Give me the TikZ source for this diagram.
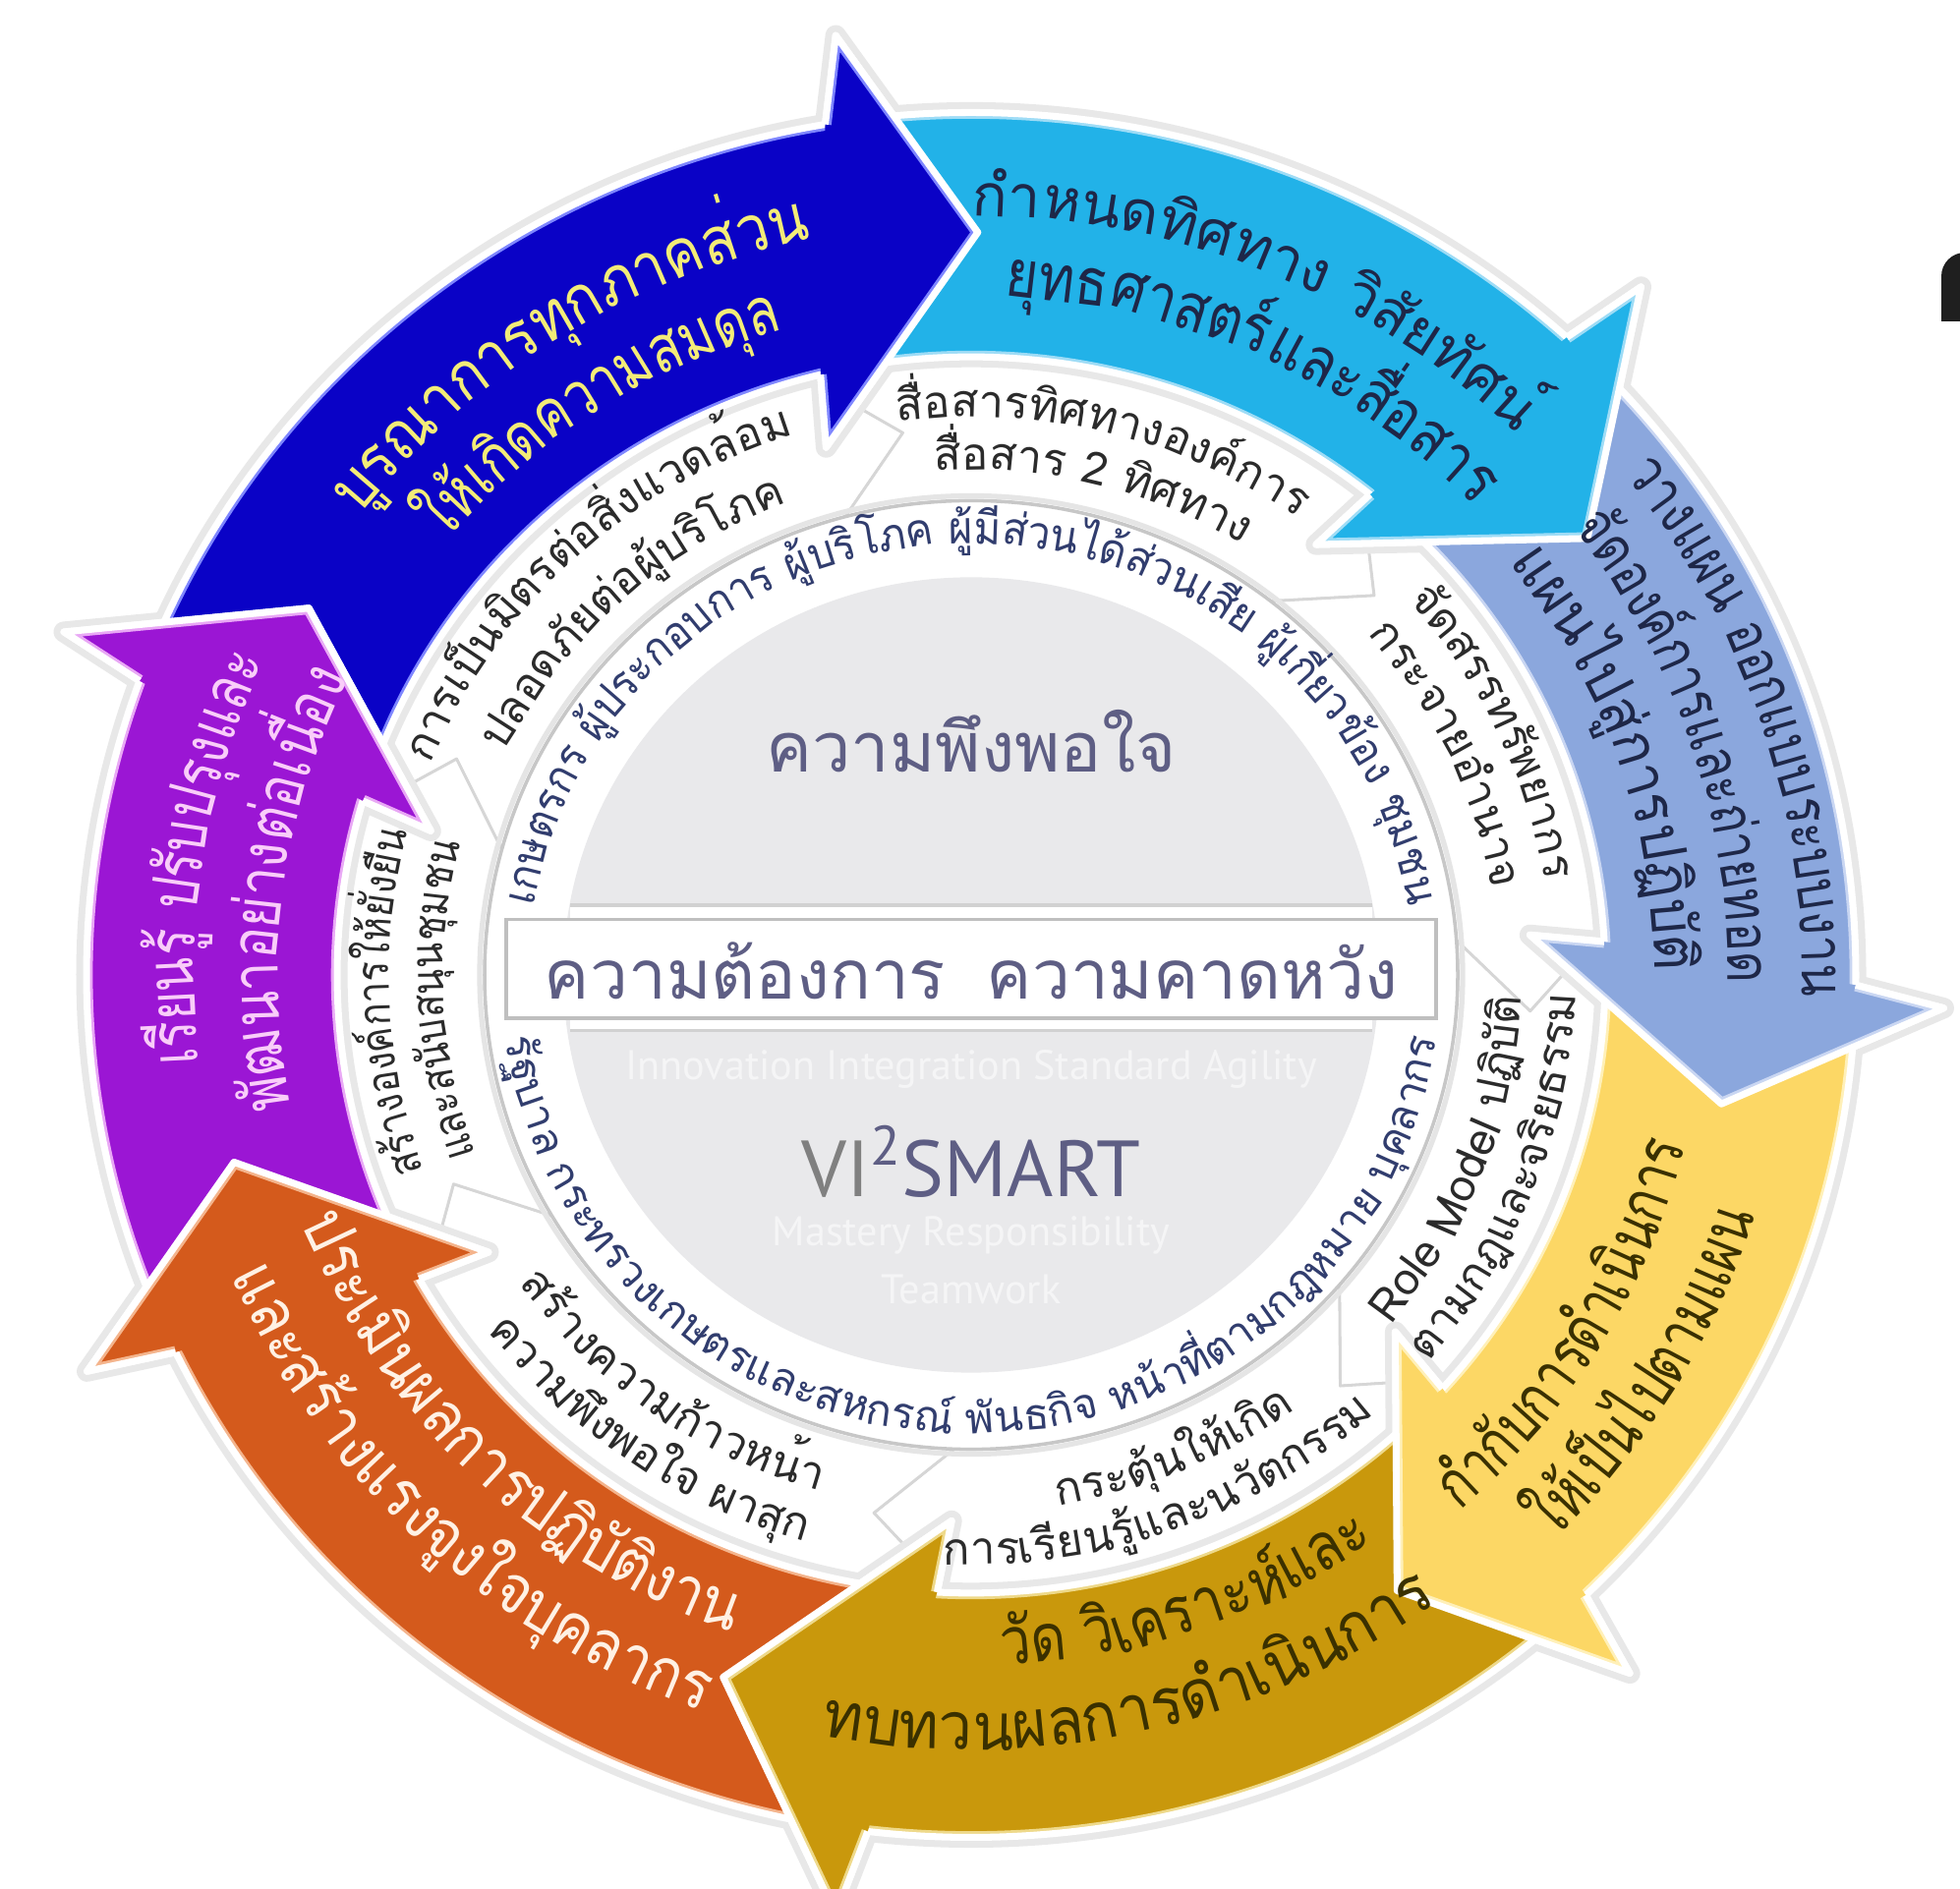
\documentclass[tikz,border=0pt]{standalone}
\usepackage{fontspec}
\newfontfamily\thai[Script=Thai]{Loma}
\newfontfamily\tA[Script=Thai,FakeStretch=0.76]{Loma}
\newfontfamily\tB[Script=Thai,FakeStretch=0.80]{Loma}
\newfontfamily\tC[Script=Thai,FakeStretch=0.84]{Loma}
\newfontfamily\tD[Script=Thai,FakeStretch=0.88]{Loma}
\newfontfamily\tE[Script=Thai,FakeStretch=0.92]{Loma}
\newfontfamily\ptsans{PT Sans}
\usetikzlibrary{decorations.text}
\definecolor{cDB}{HTML}{0A02C6}
\definecolor{cCY}{HTML}{22B2E8}
\definecolor{cBG}{HTML}{8BA7DD}
\definecolor{cYE}{HTML}{FCD765}
\definecolor{cGO}{HTML}{C9980C}
\definecolor{cOR}{HTML}{D45A1C}
\definecolor{cPU}{HTML}{9B16D4}
\definecolor{lDB}{HTML}{7E86FF}
\definecolor{lCY}{HTML}{9EDCF6}
\definecolor{lBG}{HTML}{C9D6F2}
\definecolor{lYE}{HTML}{FFF0B8}
\definecolor{lGO}{HTML}{EED98A}
\definecolor{lOR}{HTML}{F4B48C}
\definecolor{lPU}{HTML}{E9A8F5}
\definecolor{tDB}{HTML}{F3EC78}
\definecolor{tNavy}{HTML}{1E2748}
\definecolor{tOl}{HTML}{3A3000}
\definecolor{tOR}{HTML}{FFF1E4}
\definecolor{tPU}{HTML}{F9CDF9}
\definecolor{tRing}{HTML}{313D6E}
\definecolor{tLab}{HTML}{2B2B2B}
\definecolor{cDisc}{HTML}{E9E9EB}
\definecolor{tCen}{HTML}{5E5E84}
\definecolor{tFaint}{HTML}{F5F5F6}

% text on an arc round the origin: #1 format, #2 baseline radius, #3 centre angle,
% #4 half span (+ = clockwise, letters outward; - = counter-clockwise, letters inward), #5 text
\newcommand\arcline[5]{%
  \pgfmathsetmacro\aS{#3+(#4)}\pgfmathsetmacro\aE{#3-(#4)}%
  \path[decorate, decoration={text along path, text align=center, text={|#1|#5}}]
    (\aS:#2) arc[start angle=\aS, end angle=\aE, radius=#2];}
% coloured arrow: [style] tail-outer, tail-inner, outer barb, inner barb, tip
\newcommand\carrow[6][]{%
  \pgfmathsetmacro\abo{#4+0.214*(#5-#4)}%
  \pgfmathsetmacro\abi{#4+0.821*(#5-#4)}%
  \path[#1] (#2:900) arc[start angle=#2, end angle=\abo, radius=900]
    -- (#4:990) -- (#6:775) -- (#5:570)
    -- (\abi:645) arc[start angle=\abi, end angle=#3, radius=645] -- cycle;}
% head redrawn on top: colour, tint, outer barb, inner barb, tip
\newcommand\chead[5]{%
  \pgfmathsetmacro\abo{#3+0.214*(#4-#3)}%
  \pgfmathsetmacro\abi{#3+0.821*(#4-#3)}%
  \fill[#1] (\abo:900) -- (#3:990) -- (#5:775) -- (#4:570) -- (\abi:645) -- cycle;
  \begin{scope}
    \clip (\abo:900) -- (#3:990) -- (#5:775) -- (#4:570) -- (\abi:645) -- cycle;
    \draw[#2, line width=3.6pt, line join=round] (\abo:900) -- (#3:990) -- (#5:775) -- (#4:570) -- (\abi:645);
  \end{scope}
  \draw[white, line width=2pt, line join=round] (\abo:900) -- (#3:990) -- (#5:775) -- (#4:570) -- (\abi:645);}
% white label band: tail angle, head angle
\newcommand\wlab[2]{%
  \pgfmathsetmacro\tn{#1-8}\pgfmathsetmacro\hn{#2-8}%
  \filldraw[fill=white, draw=black!16, line width=0.8pt, line join=round]
    (#1:645) arc[start angle=#1, end angle=#2, radius=645]
    -- (\hn:570) -- (#2:495)
    arc[start angle=#2, end angle=#1, radius=495] -- (\tn:570) -- cycle;}

\newcommand\fL{\thai\fontsize{13}{15}\selectfont\color{tLab}}

\begin{document}
\begin{tikzpicture}[x=0.01cm,y=0.01cm]
\useasboundingbox (0,0) rectangle (1994,1921);
\fill[white] (0,0) rectangle (1994,1921);

\begin{scope}[shift={(988,929)}, yscale=0.975]
\coordinate (C) at (0,0);
% white label bands
\wlab{164.7}{105}
\wlab{105}{52}
\wlab{52}{4.2}
\wlab{4.2}{-40.8}
\wlab{319.2}{268}
\wlab{268}{210.5}
\wlab{210.5}{164.7}

% soft glow
\foreach \a/\b/\c/\d/\e in {157.7/161.5/98/105/89.5, 97/101.5/46.5/52/36, 44.9/48.5/-2/4.2/-10,
  -3/1/-47.4/-40.8/-56, 311.5/315.8/262/268/251, 260.3/264.4/204.7/210.5/194.6, 203.2/207.1/158.8/164.7/150.4}
  {\carrow[draw=black!9, line width=6pt, line join=round]{\a}{\b}{\c}{\d}{\e}}

% coloured arrows (fill, thin inner tint line, white rim)
\foreach \col/\tint/\a/\b/\c/\d/\e in {cDB/lDB/157.7/161.5/98/105/89.5, cCY/lCY/97/101.5/46.5/52/36, cBG/lBG/44.9/48.5/-2/4.2/-10,
  cYE/lYE/-3/1/-47.4/-40.8/-56, cGO/lGO/311.5/315.8/262/268/251, cOR/lOR/260.3/264.4/204.7/210.5/194.6, cPU/lPU/203.2/207.1/158.8/164.7/150.4}
  {\carrow[fill=\col]{\a}{\b}{\c}{\d}{\e}
   \begin{scope}
     \carrow[clip]{\a}{\b}{\c}{\d}{\e}
     \carrow[draw=\tint, line width=3.6pt, line join=round]{\a}{\b}{\c}{\d}{\e}
   \end{scope}
   \carrow[draw=white, line width=2pt, line join=round]{\a}{\b}{\c}{\d}{\e}}
% heads on top
\foreach \col/\tint/\c/\d/\e in {cDB/lDB/98/105/89.5, cCY/lCY/46.5/52/36, cBG/lBG/-2/4.2/-10,
  cYE/lYE/-47.4/-40.8/-56, cGO/lGO/262/268/251, cOR/lOR/204.7/210.5/194.6, cPU/lPU/158.8/164.7/150.4}
  {\chead{\col}{\tint}{\c}{\d}{\e}}

% texts in coloured arrows
\arcline{\tD\fontsize{19}{22}\selectfont\color{tDB}}{785}{122.7}{75}{{บูร}{ณา}{การ}{ทุก}{ภาค}{ส่วน}}
\arcline{\tB\fontsize{19}{22}\selectfont\color{tDB}}{700}{123.4}{75}{{ให้}{เกิด}{ความ}{สม}{ดุล}}
\arcline{\thai\fontsize{17}{20}\selectfont\color{tNavy}}{792}{66.6}{75}{{กำ}{หนด}{ทิศ}{ทาง} {วิ}{สัย}{ทัศน์ }}
\arcline{\tC\fontsize{19}{22}\selectfont\color{tNavy}}{708}{65}{75}{{ยุทธ}{ศาสตร์}{และ}{สื่อ}{สาร}}
\arcline{\tB\fontsize{17.5}{20}\selectfont\color{tNavy}}{845}{18}{75}{{วาง}{แผน} {ออก}{แบบ}{ระบบ}{งาน}}
\arcline{\tB\fontsize{17.5}{20}\selectfont\color{tNavy}}{770}{18}{75}{{จัด}{องค์}{การ}{และ}{ถ่าย}{ทอด}}
\arcline{\tE\fontsize{17.5}{20}\selectfont\color{tNavy}}{695}{18.9}{75}{{แผน}{ไป}{สู่}{การ}{ปฏิ}{บัติ}}
\arcline{\tA\fontsize{19}{22}\selectfont\color{tOl}}{748}{-30.5}{-75}{{กำ}{กับ}{การ}{ดำ}{เนิน}{การ}}
\arcline{\tA\fontsize{19}{22}\selectfont\color{tOl}}{836}{-30.6}{-75}{{ให้}{เป็น}{ไป}{ตาม}{แผน}}
\arcline{\tC\fontsize{19}{22}\selectfont\color{tOl}}{720}{-71}{-75}{{วัด} {วิ}{เคราะห์}{และ}}
\arcline{\tE\fontsize{19}{22}\selectfont\color{tOl}}{808}{-77.2}{-75}{{ทบ}{ทวน}{ผล}{การ}{ดำ}{เนิน}{การ}}
\arcline{\tD\fontsize{19}{22}\selectfont\color{tOR}}{728}{225}{-75}{{ประ}{เมิน}{ผล}{การ}{ปฏิ}{บัติ}{งาน}}
\arcline{\tD\fontsize{19}{22}\selectfont\color{tOR}}{815}{226}{-75}{{และ}{สร้าง}{แรง}{จูง}{ใจ}{บุค}{ลา}{กร}}
\arcline{\tA\fontsize{19}{22}\selectfont\color{tPU}}{790}{171.3}{75}{{เรียน}{รู้} {ปรับ}{ปรุง}{และ}}
\arcline{\tB\fontsize{19}{22}\selectfont\color{tPU}}{705}{172.8}{75}{{พัฒ}{นา}{อย่าง}{ต่อ}{เนื่อง}}

% texts in white bands
\arcline{\fL}{592}{133.5}{75}{{การ}{เป็น}{มิตร}{ต่อ}{สิ่ง}{แวด}{ล้อม}}
\arcline{\fL}{527}{133}{75}{{ปลอด}{ภัย}{ต่อ}{ผู้}{บริ}{โภค}}
\arcline{\fL}{582}{76}{75}{{สื่อ}{สาร}{ทิศ}{ทาง}{องค์}{การ}}
\arcline{\fL}{527}{76}{75}{{สื่อ}{สาร} {2} {ทิศ}{ทาง}}
\arcline{\fL}{592}{25}{75}{{จัด}{สรร}{ทรัพ}{ยา}{กร}}
\arcline{\fL}{537}{25}{75}{{กระ}{จาย}{อำ}{นาจ}}
\arcline{\fL}{560}{-21}{-75}{{Role} {Model} {ปฏิ}{บัติ}}
\arcline{\fL}{615}{-21}{-75}{{ตาม}{กฎ}{และ}{จริย}{ธรรม}}
\arcline{\fL}{560}{-67}{-75}{{กระ}{ตุ้น}{ให้}{เกิด}}
\arcline{\fL}{615}{-70}{-75}{{การ}{เรียน}{รู้}{และ}{นวัต}{กรรม}}
\arcline{\fL}{560}{234}{-75}{{สร้าง}{ความ}{ก้าว}{หน้า}}
\arcline{\fL}{615}{235}{-75}{{ความ}{พึง}{พอ}{ใจ} {ผา}{สุก}}
\arcline{\tC\fontsize{13}{15}\selectfont\color{tLab}}{592}{182.7}{75}{{สร้าง}{องค์}{การ}{ให้}{ยั่ง}{ยืน}}
\arcline{\tC\fontsize{13}{15}\selectfont\color{tLab}}{537}{182.7}{75}{{และ}{สนับ}{สนุน}{ชุม}{ชน}}

% inner disc
\fill[white] (0,0) circle (495);
\draw[black!22, line width=1pt] (0,0) circle (495);
\draw[black!10, line width=1.5pt] (0,0) circle (500);
\arcline{\tE\fontsize{13}{15}\selectfont\color{tRing}}{450}{90}{89}{{เกษ}{ตร}{กร} {ผู้}{ประ}{กอบ}{การ} {ผู้}{บริ}{โภค} {ผู้}{มี}{ส่วน}{ได้}{ส่วน}{เสีย} {ผู้}{เกี่ยว}{ข้อง} {ชุม}{ชน}}
\arcline{\thai\fontsize{12.4}{15}\selectfont\color{tRing}}{478}{270}{-89}{{รัฐ}{บาล} {กระ}{ทรวง}{เกษ}{ตร}{และ}{สห}{กรณ์} {พันธ}{กิจ} {หน้า}{ที่}{ตาม}{กฎ}{หมาย} {บุค}{ลา}{กร}}

\fill[cDisc] (0,0) circle (415);
\fill[white] (-408,-58) rectangle (408,73);
\draw[black!18, line width=1pt] (-408,73) -- (408,73);
\draw[black!18, line width=1pt] (-408,-58) -- (408,-58);
\filldraw[fill=white, draw=black!25, line width=1pt] (-473,-45) rectangle (473,58);

\node[font=\thai\fontsize{20}{24}\selectfont, text=tCen] (sat) at (0,244) {ความพึงพอใจ};
\node[font=\thai\fontsize{19.7}{24}\selectfont, text=tCen] (need) at (0,4) {ความต้องการ\hspace{0.6em}ความคาดหวัง};
\node[font=\ptsans\fontsize{12}{14}\selectfont, text=tFaint] (inn) at (0,-98) {Innovation Integration Standard Agility};
\node[font=\ptsans\fontsize{23}{26}\selectfont] (vi) at (0,-195) {\textcolor{black!50}{VI}\textsuperscript{\textcolor{tCen}{2}}\textcolor{tCen}{SMART}};
\node[font=\ptsans\fontsize{12}{14}\selectfont, text=tFaint] (mas) at (0,-272) {Mastery Responsibility};
\node[font=\ptsans\fontsize{12}{14}\selectfont, text=tFaint] (team) at (0,-328) {Teamwork};
\end{scope}

% cut-off black glyph at the right edge
\fill[black!88] (1975,1594) -- (1975,1640) arc[start angle=180, end angle=90, radius=24] -- (2000,1664) -- (2000,1594) -- cycle;
\end{tikzpicture}
\end{document}
